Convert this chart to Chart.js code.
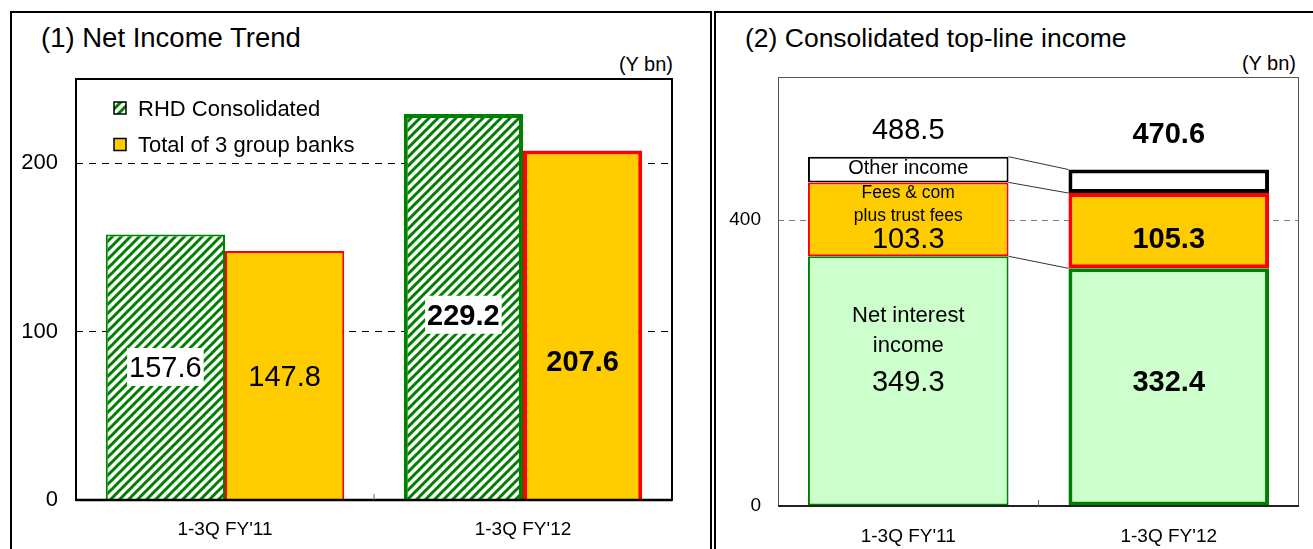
<!DOCTYPE html>
<html lang="en">
<head>
<meta charset="UTF-8">
<title>Net Income Trend / Consolidated top-line income</title>
<style>
  html, body { margin: 0; padding: 0; background: #fff; }
  body { width: 1313px; height: 549px; position: relative; overflow: hidden; font-family: "Liberation Sans", Arial, sans-serif; color: #000; }
  .panel { position: absolute; top: 11px; height: 600px; border: 2px solid #000; border-bottom: none; box-sizing: border-box; }
  #panel1 { left: 10px; width: 702px; }
  #panel2 { left: 714px; width: 640px; border-right: none; }
  .title { position: absolute; top: 23px; line-height: 30px; white-space: nowrap; }
  .unit { position: absolute; top: 54px; line-height: 20px; font-size: 20px; white-space: nowrap; }
  .chart-box { position: absolute; top: 13px; height: 536px; }
</style>
</head>
<body>
  <div class="panel" id="panel1"></div>
  <div class="panel" id="panel2"></div>

  <div class="title" style="left:41px; font-size:27.5px;">(1) Net Income Trend</div>
  <div class="unit" style="right:640px;">(Y bn)</div>
  <div class="title" style="left:745px; font-size:26.5px;">(2) Consolidated top-line income</div>
  <div class="unit" style="right:17px; top:53px;">(Y bn)</div>

  <div class="chart-box" style="left:12px; width:698px;"><canvas id="netIncomeChart"></canvas></div>
  <div class="chart-box" style="left:716px; width:597px;"><canvas id="topLineChart"></canvas></div>

<script src="https://cdn.jsdelivr.net/npm/chart.js"></script>
<script>
// ---- data ----
const categories = ["1-3Q FY'11", "1-3Q FY'12"];
const rhdConsolidated = [157.6, 229.2];
const groupBanksTotal = [147.8, 207.6];
const netIncomeTicks = [0, 100, 200];

const netInterestIncome = [349.3, 332.4];
const feesAndCommissions = [103.3, 105.3];
const otherIncome = [35.9, 32.9];
const topLineTotal = [488.5, 470.6];
const topLineTicks = [0, 400];

const FONT = '"Liberation Sans", Arial, sans-serif';
Chart.defaults.font.family = FONT;
Chart.defaults.color = '#000';

const GREEN = '#008000';
const YELLOW = '#FFCC00';
const RED = '#FF0000';
const LIGHT_GREEN = '#CCFFCC';

// green diagonal hatch for "RHD Consolidated"
function makeHatch() {
    const s = 9;
    const c = document.createElement('canvas');
    c.width = s; c.height = s;
    const g = c.getContext('2d');
    g.fillStyle = '#fff';
    g.fillRect(0, 0, s, s);
    g.strokeStyle = GREEN;
    g.lineWidth = 3;
    g.beginPath();
    g.moveTo(-1, s + 1); g.lineTo(s + 1, -1);
    g.moveTo(-3, 3); g.lineTo(3, -3);
    g.moveTo(s - 3, s + 3); g.lineTo(s + 3, s - 3);
    g.stroke();
    return g.createPattern(c, 'repeat');
}
const hatch = makeHatch();

// text helper: y is the visual centre of the digits/caps
function label(ctx, text, x, y, size, bold, whiteBox) {
    ctx.save();
    ctx.font = (bold ? 'bold ' : '') + size + 'px ' + FONT;
    ctx.textAlign = 'center';
    ctx.textBaseline = 'alphabetic';
    if (whiteBox) {
        const w = ctx.measureText(text).width;
        ctx.fillStyle = '#fff';
        ctx.fillRect(x - w / 2 - 2, y - 19, w + 4, 38);
    }
    ctx.fillStyle = '#000';
    ctx.fillText(text, x, y + size * 0.36);
    ctx.restore();
}

// ---------- (1) Net Income Trend ----------
const netIncomeDecor = {
    id: 'netIncomeDecor',
    afterDatasetsDraw(chart) {
        const { ctx, chartArea: a, scales: { x, y } } = chart;
        // value labels (y given in axis units)
        const at = [[79, 110], [73.6, 83]];
        chart.data.datasets.forEach((ds, i) => {
            const meta = chart.getDatasetMeta(i);
            ds.data.forEach((v, j) => {
                label(ctx, v.toFixed(1), meta.data[j].x, y.getPixelForValue(at[i][j]), 29, j === 1, i === 0);
            });
        });
        // plot frame
        ctx.save();
        ctx.strokeStyle = '#000';
        ctx.lineWidth = 2;
        ctx.strokeRect(a.left, a.top, a.right - a.left, a.bottom - a.top);
        ctx.lineWidth = 2.5;
        ctx.beginPath();
        ctx.moveTo(a.left, a.bottom); ctx.lineTo(a.right, a.bottom);
        ctx.stroke();
        // tick between categories
        const mid = (x.getPixelForValue(0) + x.getPixelForValue(1)) / 2;
        ctx.strokeStyle = '#666';
        ctx.lineWidth = 1;
        ctx.beginPath();
        ctx.moveTo(mid, a.bottom - 6); ctx.lineTo(mid, a.bottom);
        ctx.stroke();
        // legend inside the plot
        const items = [
            { text: 'RHD Consolidated', fill: hatch },
            { text: 'Total of 3 group banks', fill: YELLOW }
        ];
        items.forEach((it, k) => {
            const cy = a.top + 29 + k * 36.5;
            const sx = a.left + 38;
            ctx.fillStyle = it.fill;
            ctx.fillRect(sx, cy - 6, 12, 12);
            ctx.strokeStyle = '#000';
            ctx.lineWidth = 1.5;
            ctx.strokeRect(sx, cy - 6, 12, 12);
            ctx.font = '22px ' + FONT;
            ctx.fillStyle = '#000';
            ctx.textAlign = 'left';
            ctx.textBaseline = 'alphabetic';
            ctx.fillText(it.text, sx + 24, cy + 22 * 0.36);
        });
        ctx.restore();
    }
};

new Chart(document.getElementById('netIncomeChart'), {
    type: 'bar',
    data: {
        labels: categories,
        datasets: [{
            label: 'RHD Consolidated',
            data: rhdConsolidated,
            backgroundColor: hatch,
            borderColor: GREEN,
            borderWidth: [2, 4]
        }, {
            label: 'Total of 3 group banks',
            data: groupBanksTotal,
            backgroundColor: YELLOW,
            borderColor: RED,
            borderWidth: [2, 4]
        }]
    },
    options: {
        responsive: true,
        maintainAspectRatio: false,
        animation: false,
        events: [],
        layout: { padding: { left: 0, right: 38, top: 66, bottom: 0 } },
        datasets: { bar: { categoryPercentage: 0.8, barPercentage: 1.0 } },
        plugins: { legend: { display: false }, tooltip: { enabled: false } },
        scales: {
            x: {
                grid: { display: false, drawTicks: false },
                border: { display: false },
                ticks: { font: { size: 19 }, padding: 18, color: '#000' },
                afterFit: s => { s.height = 49; }
            },
            y: {
                min: 0,
                max: 250,
                afterBuildTicks: s => { s.ticks = netIncomeTicks.map(v => ({ value: v })); },
                grid: {
                    drawTicks: false,
                    color: c => (c.tick && c.tick.value === 0) ? 'rgba(0,0,0,0)' : '#000',
                    lineWidth: 1
                },
                border: { display: false, dash: [7, 6] },
                ticks: { font: { size: 22 }, padding: 18, color: '#000' },
                afterFit: s => { s.width = 64; }
            }
        }
    },
    plugins: [netIncomeDecor]
});

// ---------- (2) Consolidated top-line income ----------
const topLineDecor = {
    id: 'topLineDecor',
    afterDatasetsDraw(chart) {
        const { ctx, chartArea: a, scales: { x, y } } = chart;
        const metas = [0, 1, 2].map(i => chart.getDatasetMeta(i));
        // connectors between the segment tops of the two bars
        ctx.save();
        ctx.strokeStyle = '#333';
        ctx.lineWidth = 1;
        metas.forEach(m => {
            const b0 = m.data[0], b1 = m.data[1];
            ctx.beginPath();
            ctx.moveTo(b0.x + b0.width / 2, b0.y);
            ctx.lineTo(b1.x - b1.width / 2, b1.y);
            ctx.stroke();
        });
        // plot frame
        ctx.strokeStyle = '#555';
        ctx.lineWidth = 1;
        ctx.strokeRect(a.left + 0.5, a.top + 0.5, a.right - a.left - 1, a.bottom - a.top);
        ctx.strokeStyle = '#222';
        ctx.lineWidth = 2;
        ctx.beginPath();
        ctx.moveTo(a.left, a.bottom); ctx.lineTo(a.right, a.bottom);
        ctx.stroke();
        const mid = (x.getPixelForValue(0) + x.getPixelForValue(1)) / 2;
        ctx.strokeStyle = '#666';
        ctx.lineWidth = 1;
        ctx.beginPath();
        ctx.moveTo(mid, a.bottom - 6); ctx.lineTo(mid, a.bottom);
        ctx.stroke();
        ctx.restore();

        const c0 = x.getPixelForValue(0), c1 = x.getPixelForValue(1);
        const Y = v => y.getPixelForValue(v);
        // totals
        label(ctx, topLineTotal[0].toFixed(1), c0, Y(528), 29, false, false);
        label(ctx, topLineTotal[1].toFixed(1), c1, Y(522), 29, true, false);
        // segment captions (FY'11 only)
        label(ctx, 'Other income', c0, Y(474), 20, false, false);
        label(ctx, 'Fees & com', c0, Y(439.5), 17.5, false, false);
        label(ctx, 'plus trust fees', c0, Y(407), 17.5, false, false);
        label(ctx, 'Net interest', c0, Y(268.5), 22, false, false);
        label(ctx, 'income', c0, Y(227), 22, false, false);
        // segment values
        label(ctx, feesAndCommissions[0].toFixed(1), c0, Y(376), 29, false, false);
        label(ctx, feesAndCommissions[1].toFixed(1), c1, Y(376), 29, true, false);
        label(ctx, netInterestIncome[0].toFixed(1), c0, Y(176), 29, false, false);
        label(ctx, netInterestIncome[1].toFixed(1), c1, Y(176), 29, true, false);
    }
};

new Chart(document.getElementById('topLineChart'), {
    type: 'bar',
    data: {
        labels: categories,
        datasets: [{
            label: 'Net interest income',
            data: netInterestIncome,
            backgroundColor: LIGHT_GREEN,
            borderColor: GREEN,
            borderWidth: [2, 4]
        }, {
            label: 'Fees & com plus trust fees',
            data: feesAndCommissions,
            backgroundColor: YELLOW,
            borderColor: RED,
            borderWidth: [2, 4]
        }, {
            label: 'Other income',
            data: otherIncome,
            backgroundColor: '#fff',
            borderColor: '#000',
            borderWidth: [2, 4]
        }]
    },
    options: {
        responsive: true,
        maintainAspectRatio: false,
        animation: false,
        events: [],
        layout: { padding: { left: 0, right: 14, top: 64, bottom: 0 } },
        datasets: { bar: { categoryPercentage: 0.77, barPercentage: 1.0, borderSkipped: false } },
        plugins: { legend: { display: false }, tooltip: { enabled: false } },
        scales: {
            x: {
                stacked: true,
                grid: { display: false, drawTicks: false },
                border: { display: false },
                ticks: { font: { size: 19 }, padding: 19, color: '#000' },
                afterFit: s => { s.height = 43; }
            },
            y: {
                stacked: true,
                min: 0,
                max: 600,
                afterBuildTicks: s => { s.ticks = topLineTicks.map(v => ({ value: v })); },
                grid: {
                    drawTicks: false,
                    color: c => (c.tick && c.tick.value === 0) ? 'rgba(0,0,0,0)' : '#808080',
                    lineWidth: 1
                },
                border: { display: false, dash: [6, 5] },
                ticks: { font: { size: 19 }, padding: 17, color: '#000' },
                afterFit: s => { s.width = 62; }
            }
        }
    },
    plugins: [topLineDecor]
});
</script>
</body>
</html>
